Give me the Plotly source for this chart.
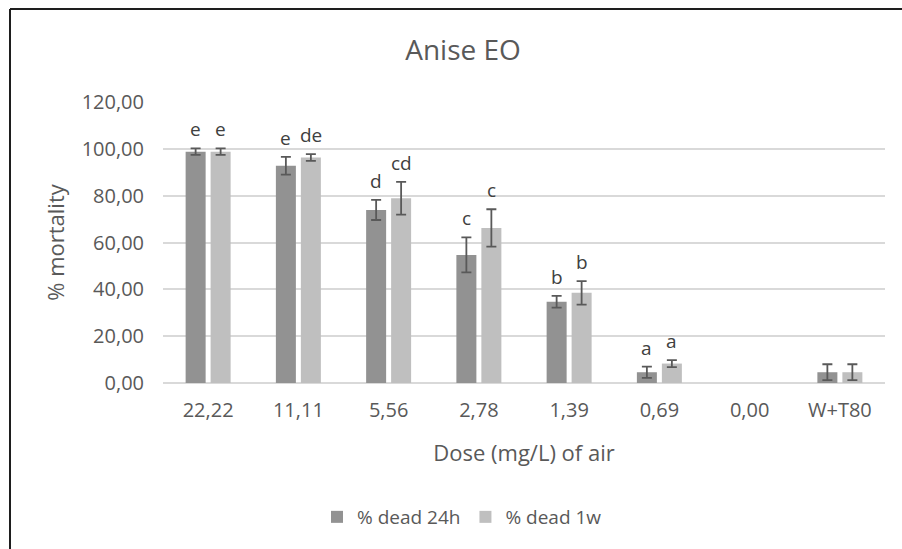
import plotly.graph_objects as go

# Mortality (%) by dose, with standard errors and significance letters
doses = ["22,22", "11,11", "5,56", "2,78", "1,39", "0,69", "0,00", "W+T80"]
dead_24h = [98.8, 92.8, 73.9, 54.7, 34.7, 4.6, 0.0, 4.6]
err_24h = [1.4, 3.8, 4.3, 7.5, 2.5, 2.4, 0.0, 3.4]
dead_1w = [98.8, 96.3, 78.9, 66.2, 38.5, 8.3, 0.0, 4.6]
err_1w = [1.4, 1.4, 7.0, 8.0, 5.0, 1.5, 0.0, 3.4]
letters_24h = ["e", "e", "d", "c", "b", "a", "", ""]
letters_1w = ["e", "de", "cd", "c", "b", "a", "", ""]
y_ticks = [0, 20, 40, 60, 80, 100, 120]
y_tick_text = ["0,00", "20,00", "40,00", "60,00", "80,00", "100,00", "120,00"]

W, H = 902, 549
ML, MR, MT, MB = 163, 17, 102, 166
plot_w = W - ML - MR
plot_h = H - MT - MB

TXT = "#595959"
FONT = "Open Sans"
DARK = "#929292"
LIGHT = "#bfbfbf"
ERR = "#595959"


def shown(values):
    # a zero-height bar has nothing to show, so leave it (and its error cap) out
    return [v if v else None for v in values]


fig = go.Figure()
fig.add_trace(go.Bar(
    x=doses, y=shown(dead_24h), name="% dead 24h", marker_color=DARK,
    marker_line_width=0,
    error_y=dict(type="data", array=err_24h, color=ERR, thickness=1.8, width=5),
))
fig.add_trace(go.Bar(
    x=doses, y=shown(dead_1w), name="% dead 1w", marker_color=LIGHT,
    marker_line_width=0,
    error_y=dict(type="data", array=err_1w, color=ERR, thickness=1.8, width=5),
))

# significance letters above each error bar
bar_off = 12.5
for i, d in enumerate(doses):
    for vals, errs, labs, sh in ((dead_24h, err_24h, letters_24h, -bar_off),
                                 (dead_1w, err_1w, letters_1w, bar_off)):
        if labs[i]:
            fig.add_annotation(
                x=d, y=vals[i] + errs[i], text=labs[i], showarrow=False,
                xshift=sh, yshift=19, yanchor="middle",
                font=dict(family=FONT, size=19, color="#404040"),
            )

# outer chart frame (top and left edges)
def px_x(px):
    return (px - ML) / plot_w


def px_y(py):
    return (H - MB - py) / plot_h


fig.add_shape(type="line", xref="paper", yref="paper",
              x0=px_x(10), x1=px_x(W + 5), y0=px_y(9), y1=px_y(9),
              line=dict(color="#1e1e1e", width=2))
fig.add_shape(type="line", xref="paper", yref="paper",
              x0=px_x(10), x1=px_x(10), y0=px_y(9), y1=px_y(H + 5),
              line=dict(color="#1e1e1e", width=2))

fig.update_layout(
    width=W, height=H,
    margin=dict(l=ML, r=MR, t=MT, b=MB),
    paper_bgcolor="white", plot_bgcolor="white",
    barmode="group", bargap=0.446, bargroupgap=0.2,
    font=dict(family=FONT, color=TXT, size=20),
    title=dict(text="Anise EO", x=463 / W, xanchor="center",
               y=1 - 50 / H, yanchor="middle", yref="container",
               xref="container",
               font=dict(family=FONT, size=28, color=TXT)),
    xaxis=dict(
        showgrid=False, showline=False, ticks="", ticklabelstandoff=13,
        tickfont=dict(family=FONT, size=20, color=TXT),
        title=dict(text="Dose (mg/L) of air", standoff=23,
                   font=dict(family=FONT, size=22, color=TXT)),
    ),
    yaxis=dict(
        range=[0, 120], tickvals=y_ticks, ticktext=y_tick_text,
        showgrid=True, gridcolor="#d9d9d9", gridwidth=1.5,
        zeroline=True, zerolinecolor="#d9d9d9", zerolinewidth=1.5,
        showline=False, ticks="", ticklabelstandoff=18,
        tickfont=dict(family=FONT, size=20, color=TXT),
        title=dict(text="% mortality", standoff=10,
                   font=dict(family=FONT, size=22, color=TXT)),
    ),
    legend=dict(orientation="h", x=(462 - ML) / plot_w, xanchor="center",
                y=px_y(517), yanchor="middle",
                font=dict(family=FONT, size=19, color=TXT),
                itemwidth=30, traceorder="normal"),
    showlegend=True,
)

fig.write_html("out.html")
